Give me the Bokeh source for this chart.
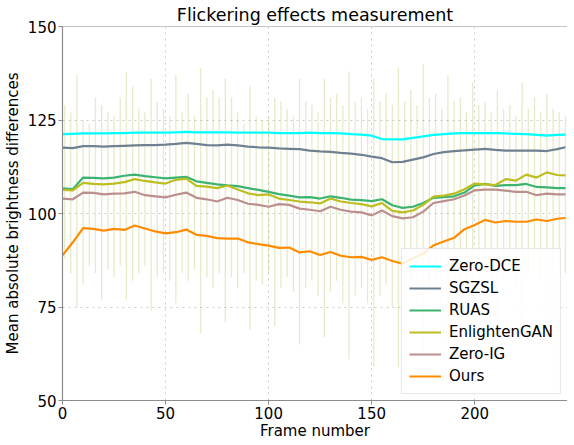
from bokeh.plotting import figure
from bokeh.models import Range1d, Legend, LegendItem, Span, FixedTicker
from bokeh.embed import file_html
from bokeh.resources import INLINE

# ---- data ----
frames = [0, 5, 10, 15, 20, 25, 30, 35, 40, 45, 50, 55, 60, 65, 70, 75, 80, 85, 90, 95,
          100, 105, 110, 115, 120, 125, 130, 135, 140, 145, 150, 155, 160, 165, 170, 175,
          180, 185, 190, 195, 200, 205, 210, 215, 220, 225, 230, 235, 240, 244]

zero_dce = [121.2, 121.3, 121.4, 121.4, 121.4, 121.5, 121.5, 121.6, 121.6, 121.6,
            121.6, 121.7, 121.8, 121.7, 121.7, 121.7, 121.7, 121.6, 121.6, 121.6,
            121.6, 121.5, 121.5, 121.5, 121.6, 121.5, 121.5, 121.4, 121.2, 121.1,
            120.8, 119.9, 119.8, 119.8, 120.2, 120.6, 121.0, 121.2, 121.4, 121.5,
            121.5, 121.5, 121.5, 121.4, 121.3, 121.2, 121.0, 120.8, 121.0, 121.1]

sgzsl = [117.6, 117.5, 118.0, 118.0, 117.9, 118.0, 118.1, 118.2, 118.3, 118.3,
         118.4, 118.6, 118.9, 118.6, 118.3, 118.2, 118.4, 118.2, 117.9, 117.7,
         117.6, 117.4, 117.3, 117.2, 116.8, 116.6, 116.5, 116.2, 116.0, 115.7,
         115.2, 114.8, 113.7, 113.8, 114.4, 115.0, 115.9, 116.4, 116.7, 116.9,
         117.1, 117.3, 117.0, 116.8, 116.8, 116.8, 116.8, 116.7, 117.2, 117.7]

ruas = [106.7, 106.5, 109.6, 109.5, 109.4, 109.6, 110.1, 110.4, 110.0, 109.7,
        109.4, 109.6, 109.8, 108.6, 108.2, 107.8, 107.5, 107.3, 106.8, 106.3,
        105.8, 105.2, 104.8, 104.3, 104.4, 104.0, 104.6, 104.2, 103.7, 103.6,
        103.3, 103.8, 102.2, 101.5, 101.8, 102.8, 104.2, 104.4, 104.6, 105.6,
        107.5, 107.9, 107.4, 107.6, 107.6, 107.9, 107.1, 107.0, 106.8, 106.8]

enlightengan = [106.3, 106.2, 108.2, 107.9, 107.8, 108.0, 108.4, 109.2, 108.7, 108.3,
                108.0, 109.0, 109.3, 107.4, 107.2, 106.8, 107.5, 106.4, 105.4, 104.9,
                105.1, 104.0, 103.6, 103.2, 103.0, 102.7, 104.0, 103.2, 102.8, 102.5,
                101.9, 102.8, 100.7, 100.3, 100.8, 102.3, 104.5, 104.8, 105.3, 106.5,
                108.0, 107.8, 107.6, 109.2, 108.8, 110.4, 109.6, 111.0, 110.3, 110.2]

zero_ig = [104.0, 103.8, 105.6, 105.5, 105.1, 105.3, 105.4, 105.8, 104.9, 104.6,
           104.3, 105.0, 105.6, 104.2, 103.8, 103.2, 104.2, 103.6, 102.6, 102.3,
           101.8, 102.5, 102.3, 101.3, 101.0, 100.6, 101.8, 101.0, 100.5, 100.3,
           99.5, 100.8, 99.3, 98.7, 99.0, 100.5, 102.8, 103.3, 103.8, 104.8,
           106.2, 106.4, 106.4, 106.1, 105.8, 105.8, 104.9, 105.3, 105.1, 105.1]

ours = [88.8, 92.3, 96.1, 95.9, 95.4, 95.9, 95.6, 96.8, 96.0, 95.2,
        94.7, 95.0, 95.7, 94.3, 94.0, 93.4, 93.3, 93.3, 92.3, 91.8,
        91.4, 90.8, 90.9, 89.6, 89.9, 88.9, 89.7, 88.7, 88.3, 88.4,
        87.6, 88.3, 87.3, 86.6, 88.0, 89.3, 91.5, 92.5, 93.5, 95.8,
        96.9, 98.3, 97.6, 98.0, 97.8, 97.8, 98.4, 98.0, 98.6, 98.8]

# per-frame flicker spikes of the raw (unsmoothed) curves
spike_frames = [1, 4, 7, 10, 13, 16, 19, 22, 25, 28, 31, 34, 37, 40, 43, 46, 49, 52, 55, 58,
                61, 64, 67, 70, 73, 76, 79, 82, 85, 88, 91, 94, 97, 100, 103, 106, 109, 112,
                115, 118, 121, 124, 127, 130, 133, 136, 139, 142, 145, 148, 151, 154, 157,
                160, 163, 166, 169, 172, 175, 178, 181, 184, 187, 190, 193, 196, 199, 202,
                205, 208, 211, 214, 217, 220, 223, 226, 229, 232, 235, 238, 241, 244]
spike_hi = [129, 127, 137, 125, 124, 131, 129, 127, 126, 131, 138, 134, 128, 127, 136, 130,
            128, 126, 137, 127, 132, 126, 139, 131, 133, 131, 136, 131, 127, 124, 134, 126,
            125, 126, 131, 130, 128, 126, 136, 130, 129, 127, 136, 131, 132, 129, 138, 130,
            131, 128, 136, 130, 132, 129, 139, 130, 133, 129, 140, 131, 132, 128, 137, 130,
            131, 127, 135, 129, 130, 127, 133, 128, 129, 126, 135, 128, 131, 127, 132, 128,
            127, 126]
spike_lo = [88, 84, 75, 81, 86, 84, 77, 85, 83, 86, 77, 82, 84, 86, 74, 83, 84, 82, 76, 84,
            82, 85, 68, 83, 80, 84, 71, 83, 80, 84, 69, 82, 81, 84, 70, 80, 83, 79, 65, 80,
            82, 78, 67, 79, 82, 76, 61, 78, 80, 76, 59, 78, 81, 75, 59, 78, 80, 76, 62, 78,
            80, 77, 64, 80, 81, 78, 66, 82, 84, 80, 68, 83, 84, 81, 70, 84, 85, 82, 72, 85,
            86, 84]

names = ["Zero-DCE", "SGZSL", "RUAS", "EnlightenGAN", "Zero-IG", "Ours"]
series = [zero_dce, sgzsl, ruas, enlightengan, zero_ig, ours]
colors = ["#00FFFF", "#708090", "#3CB371", "#BCBD22", "#BC8F8F", "#FF8C00"]

y_ticks = [50, 75, 100, 125, 150]
x_ticks = [0, 50, 100, 150, 200]

FONT = "DejaVu Sans"

p = figure(frame_width=505, frame_height=374, output_backend="svg", toolbar_location=None,
           x_range=Range1d(0, 245), y_range=Range1d(50, 150),
           title="Flickering effects measurement",
           min_border_left=0, min_border_right=0, min_border_top=0, min_border_bottom=0)

p.title.align = "center"
p.title.text_font = FONT
p.title.text_font_size = "17.5px"
p.title.text_font_style = "normal"
p.title.text_color = "#000000"
p.title.standoff = 4

p.background_fill_color = "white"
p.border_fill_color = "white"
p.outline_line_color = None

# raw flicker traces (faint)
p.segment(x0=spike_frames, y0=spike_lo, x1=spike_frames, y1=spike_hi,
          line_color="#BCBD22", line_alpha=0.18, line_width=1.3)
p.segment(x0=spike_frames, y0=spike_lo, x1=spike_frames, y1=spike_hi,
          line_color="#FF8C00", line_alpha=0.06, line_width=1.3)
p.segment(x0=spike_frames, y0=spike_lo, x1=spike_frames, y1=spike_hi,
          line_color="#00CED1", line_alpha=0.05, line_width=1.3)

renderers = []
for name, ys, c in zip(names, series, colors):
    r = p.line(frames, ys, line_color=c, line_width=2.2)
    renderers.append(r)

p.add_layout(Span(location=150, dimension="width", line_color="#8c8c8c", line_width=1.2))

legend = Legend(items=[LegendItem(label=n, renderers=[r]) for n, r in zip(names, renderers)],
                location="bottom_right")
legend.label_text_font = FONT
legend.label_text_font_size = "15px"
legend.label_text_color = "#000000"
legend.glyph_width = 32
legend.glyph_height = 20
legend.spacing = 2
legend.padding = 7
legend.margin = 6
legend.label_standoff = 8
legend.border_line_color = "#d0d0d0"
legend.border_line_width = 1
legend.background_fill_alpha = 0.85
p.add_layout(legend)

for ax in (p.xaxis, p.yaxis):
    ax.axis_line_color = "#8c8c8c"
    ax.axis_line_width = 1.2
    ax.major_tick_line_color = "#8c8c8c"
    ax.major_tick_out = 4
    ax.major_tick_in = 0
    ax.minor_tick_line_color = None
    ax.major_label_text_font = FONT
    ax.major_label_text_font_size = "15px"
    ax.major_label_text_color = "#000000"
    ax.axis_label_text_font = FONT
    ax.axis_label_text_font_size = "15px"
    ax.axis_label_text_font_style = "normal"
    ax.axis_label_text_color = "#000000"

p.xaxis.ticker = FixedTicker(ticks=x_ticks)
p.yaxis.ticker = FixedTicker(ticks=y_ticks)
p.xaxis.axis_label = "Frame number"
p.yaxis.axis_label = "Mean absolute brightness differences"
p.xaxis.major_label_standoff = 2
p.xaxis.axis_label_standoff = 0
p.yaxis.major_label_standoff = 2
p.yaxis.axis_label_standoff = 3

p.grid.grid_line_color = "#cccccc"
p.grid.grid_line_dash = "dotted"
p.grid.grid_line_width = 1

open("out.html", "w").write(file_html(p, INLINE))
